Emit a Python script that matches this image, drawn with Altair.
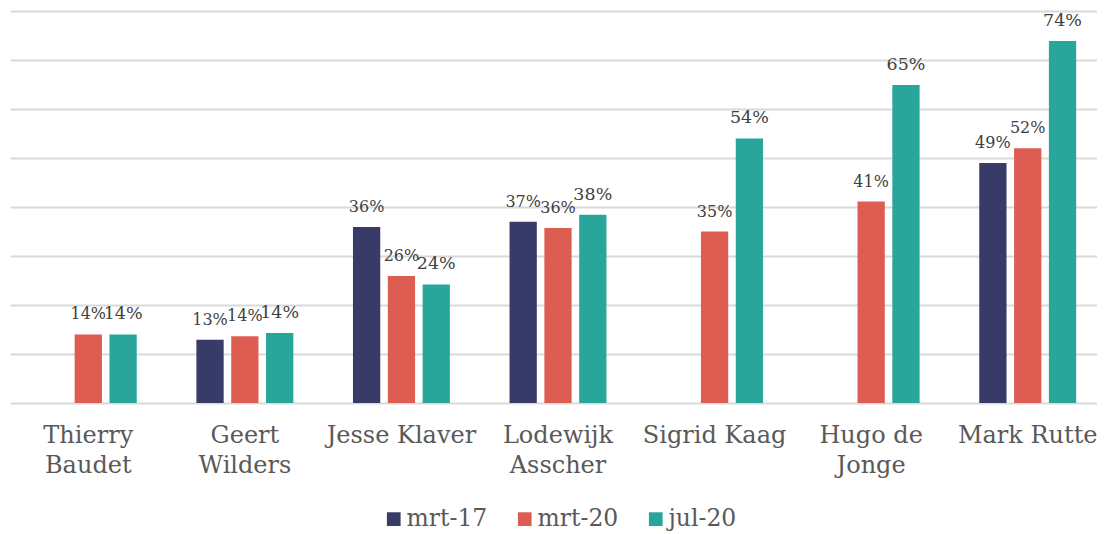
import altair as alt
import pandas as pd

categories = ["Thierry\nBaudet", "Geert\nWilders", "Jesse Klaver", "Lodewijk\nAsscher",
              "Sigrid Kaag", "Hugo de\nJonge", "Mark Rutte"]
series = ["mrt-17", "mrt-20", "jul-20"]
mrt17 = [None, 12.9, 35.9, 37.0, None, None, 49.0]
mrt20 = [14.0, 13.6, 25.9, 35.7, 35.0, 41.1, 52.0]
jul20 = [14.0, 14.3, 24.2, 38.4, 54.0, 64.9, 73.9]
colors = ["#383a67", "#de5d53", "#29a69b"]

rows = []
for s, vals in zip(series, [mrt17, mrt20, jul20]):
    for c, v in zip(categories, vals):
        if v is not None:
            rows.append({"cat": c, "series": s, "value": v})
df = pd.DataFrame(rows)

FONT = "DejaVu Serif"

base = alt.Chart(df).encode(
    x=alt.X("cat:N", sort=categories, title=None,
            scale=alt.Scale(paddingInner=0.381, paddingOuter=0.1905, range=[0, 1096]),
            axis=alt.Axis(labelExpr="split(datum.label, '\\n')", labelAngle=0,
                          labelFont=FONT, labelFontSize=24, labelColor="#595959",
                          labelLineHeight=30, labelPadding=20, ticks=False, tickSize=0,
                          domain=False, grid=False)),
    xOffset=alt.XOffset("series:N", sort=series,
                        scale=alt.Scale(paddingInner=0.217, paddingOuter=0)),
    y=alt.Y("value:Q", title=None,
            scale=alt.Scale(domain=[0, 80], nice=False),
            axis=alt.Axis(values=[0, 10, 20, 30, 40, 50, 60, 70, 80], labels=False,
                          ticks=False, domain=False, gridColor="#d9d9d9",
                          gridWidth=1.8, minExtent=0)),
)

bars = base.mark_bar().encode(
    color=alt.Color("series:N", sort=series,
                    scale=alt.Scale(domain=series, range=colors),
                    legend=alt.Legend(title=None, orient="none", legendX=372, legendY=496,
                                      direction="horizontal", symbolType="square",
                                      symbolSize=188, symbolStrokeWidth=0,
                                      labelFont=FONT, labelFontSize=23.5,
                                      labelColor="#595959", columnPadding=25,
                                      labelOffset=1, padding=0))
)

labels = base.mark_text(font=FONT, color="#404040", baseline="alphabetic", dy=-15).encode(
    text=alt.Text("label:N"),
    size=alt.condition(alt.datum.series == "jul-20", alt.value(17.5), alt.value(16)),
).transform_calculate(label="format(datum.value, '.0f') + '%'")

chart = alt.layer(bars, labels).properties(
    width=1087, height=392,
    padding={"left": 2, "top": 3, "right": 0, "bottom": 129},
    autosize=alt.AutoSizeParams(type="none"),
).configure_view(stroke=None)

chart.save("out.html", embed_options={"renderer": "svg", "actions": False})
